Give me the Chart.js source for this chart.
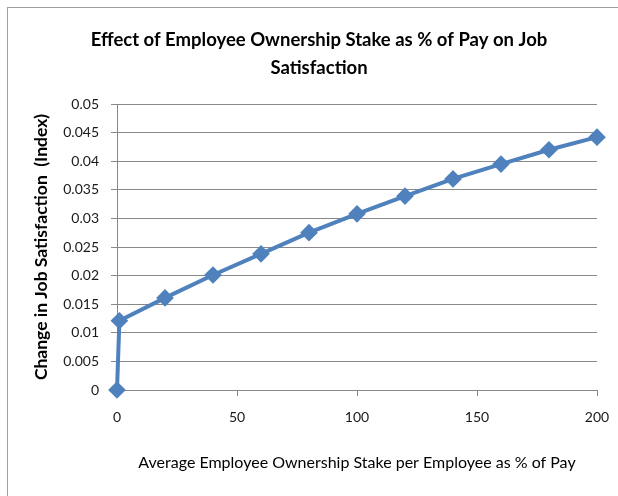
<!DOCTYPE html>
<html>
<head>
<meta charset="utf-8">
<script src="https://cdn.jsdelivr.net/npm/chart.js@4/dist/chart.umd.min.js"></script>
<style>
  html, body { margin: 0; padding: 0; background: #fff; }
  #wrap { position: relative; width: 618px; height: 496px; overflow: hidden; }
  #frame { position: absolute; left: 7px; top: 7px; width: 640px; height: 520px;
           border-left: 1px solid #a0a0a0; border-top: 1px solid #a0a0a0; }
  canvas { position: absolute; left: 0; top: 0; }
</style>
</head>
<body>
<div id="wrap">
  <div id="frame"></div>
  <canvas id="lineChart" width="618" height="496"></canvas>
</div>
<script>
/********************
DATA
********************/
var titleLines = ["Effect of Employee Ownership Stake as % of Pay on Job", "Satisfaction"];
var xLabel = "Average Employee Ownership Stake per Employee as % of Pay";
var yLabel = "Change in Job Satisfaction  (Index)";
var stakeValues = [0, 1, 20, 40, 60, 80, 100, 120, 140, 160, 180, 200];
var satisfactionValues = [0, 0.0121, 0.0161, 0.0201, 0.0238, 0.0275, 0.0308, 0.0339, 0.0369, 0.0395, 0.0420, 0.0442];
var xTicks = [0, 50, 100, 150, 200];
var yTicks = [0, 0.005, 0.01, 0.015, 0.02, 0.025, 0.03, 0.035, 0.04, 0.045, 0.05];

var points = stakeValues.map(function (x, i) { return { x: x, y: satisfactionValues[i] }; });

// title drawn by hand so it can sit off-centre like the original
var titlePlugin = {
    id: 'customTitle',
    afterDraw: function (chart) {
        var ctx = chart.ctx;
        ctx.save();
        ctx.font = 'bold 18.5px Lato';
        ctx.fillStyle = '#000';
        ctx.textAlign = 'center';
        ctx.textBaseline = 'middle';
        titleLines.forEach(function (t, i) {
            ctx.fillText(t, 319, 40 + i * 28);
        });
        ctx.restore();
    }
};

var ctl = document.getElementById('lineChart').getContext('2d');
var chart = new Chart(ctl, {
    type: 'scatter',
    data: {
        datasets: [{
            data: points,
            showLine: true,
            clip: false,
            borderColor: '#4F81BD',
            backgroundColor: '#4F81BD',
            borderWidth: 4,
            pointStyle: 'rectRot',
            pointRadius: 6,
            pointHoverRadius: 6,
            lineTension: 0
        }]
    },
    options: {
        responsive: false,
        animation: false,
        layout: { autoPadding: false, padding: { left: 0, right: 21, top: 104, bottom: 0 } },
        plugins: {
            legend: { display: false },
            tooltip: { enabled: false }
        },
        scales: {
            x: {
                type: 'linear',
                min: 0,
                max: 200,
                afterBuildTicks: function (axis) { axis.ticks = xTicks.map(function (v) { return { value: v }; }); },
                afterFit: function (axis) { axis.height = 106; },
                grid: { drawOnChartArea: false, drawTicks: true, tickLength: 6, color: '#888' },
                border: { color: '#888' },
                ticks: { color: '#1a1a1a', font: { family: 'Lato', size: 14, lineHeight: 1.9 }, padding: 8, maxRotation: 0 },
                title: { display: true, text: xLabel, color: '#000', font: { family: 'Lato', size: 16 }, padding: { top: 0, bottom: 24 } }
            },
            y: {
                min: 0,
                max: 0.05,
                afterBuildTicks: function (axis) { axis.ticks = yTicks.map(function (v) { return { value: v }; }); },
                afterFit: function (axis) { axis.width = 117; },
                grid: { color: '#888', tickLength: 6 },
                border: { color: '#888' },
                ticks: {
                    color: '#1a1a1a',
                    font: { family: 'Lato', size: 14 },
                    padding: 12,
                    callback: function (v) { return String(Math.round(v * 1000) / 1000); }
                },
                title: { display: true, text: yLabel, color: '#000', font: { family: 'Lato', size: 17.5, weight: 'bold' }, padding: { top: 31, bottom: 0 } }
            }
        }
    },
    plugins: [titlePlugin]
});
</script>
</body>
</html>
